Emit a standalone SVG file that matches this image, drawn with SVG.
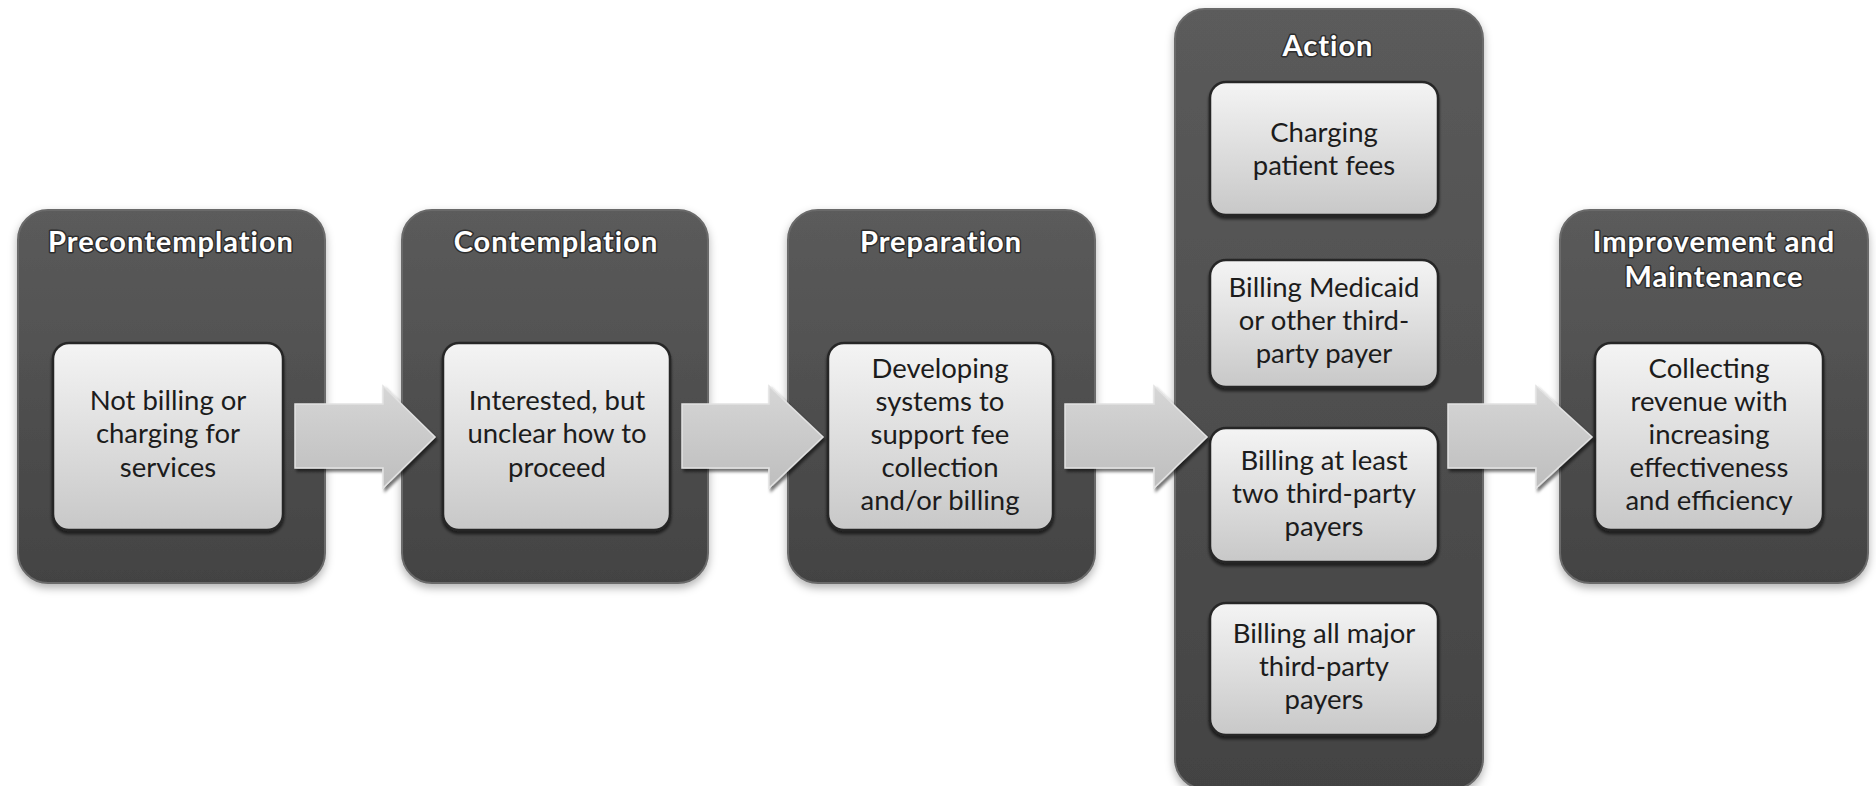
<svg xmlns="http://www.w3.org/2000/svg" width="1876" height="786" viewBox="0 0 1876 786">
<defs>
<linearGradient id="gOuter" x1="0" y1="0" x2="0" y2="1">
<stop offset="0" stop-color="#5b5b5b"/>
<stop offset="1" stop-color="#434343"/>
</linearGradient>
<linearGradient id="gInner" x1="0" y1="0" x2="0" y2="1">
<stop offset="0" stop-color="#f4f4f4"/>
<stop offset="1" stop-color="#c8c8c8"/>
</linearGradient>
<linearGradient id="gArrow" x1="0" y1="0" x2="0" y2="1">
<stop offset="0" stop-color="#d6d6d6"/>
<stop offset="1" stop-color="#bebebe"/>
</linearGradient>
<filter id="fOuter" x="-10%" y="-10%" width="120%" height="120%">
<feDropShadow dx="0" dy="4" stdDeviation="4" flood-color="#000" flood-opacity="0.3"/>
</filter>
<filter id="fInner" x="-10%" y="-10%" width="120%" height="125%">
<feDropShadow dx="0" dy="3" stdDeviation="1.5" flood-color="#000" flood-opacity="0.6"/>
</filter>
<filter id="fArrow" x="-10%" y="-10%" width="125%" height="125%">
<feDropShadow dx="2" dy="3" stdDeviation="1.5" flood-color="#000" flood-opacity="0.55"/>
</filter>
<style>
.outer{fill:url(#gOuter);stroke:#6a6a6a;stroke-width:2;filter:url(#fOuter)}
.inner{fill:url(#gInner);stroke:#262626;stroke-width:2.5;filter:url(#fInner)}
.arrow{fill:url(#gArrow);stroke:#e2e2e2;stroke-width:1.5;filter:url(#fArrow)}
.title{font-family:Lato,"Open Sans",sans-serif;font-weight:bold;font-size:29px;letter-spacing:1px;fill:#ffffff;stroke:#2e2e2e;stroke-width:3;paint-order:stroke;stroke-linejoin:round;text-anchor:middle}
.body{font-family:Lato,"Open Sans",sans-serif;font-size:27.5px;fill:#1c1c1c;text-anchor:middle}
</style>
</defs>
<rect width="1876" height="786" fill="#ffffff"/>

<g id="precontemplation">
<rect class="outer" x="18" y="210" width="307" height="373" rx="30"/>
<text class="title" x="171" y="252">Precontemplation</text>
<rect class="inner" x="53" y="343" width="230" height="187" rx="16"/>
<text class="body" x="168" y="410">Not billing or</text>
<text class="body" x="168" y="443">charging for</text>
<text class="body" x="168" y="477">services</text>
</g>

<g id="contemplation">
<rect class="outer" x="402" y="210" width="306" height="373" rx="30"/>
<text class="title" x="556" y="252">Contemplation</text>
<rect class="inner" x="443" y="343" width="227" height="187" rx="16"/>
<text class="body" x="557" y="410">Interested, but</text>
<text class="body" x="557" y="443">unclear how to</text>
<text class="body" x="557" y="477">proceed</text>
</g>

<g id="preparation">
<rect class="outer" x="788" y="210" width="307" height="373" rx="30"/>
<text class="title" x="941" y="252">Preparation</text>
<rect class="inner" x="828" y="343" width="225" height="187" rx="16"/>
<text class="body" x="940" y="378">Developing</text>
<text class="body" x="940" y="411">systems to</text>
<text class="body" x="940" y="444">support fee</text>
<text class="body" x="940" y="477">collection</text>
<text class="body" x="940" y="510">and/or billing</text>
</g>

<g id="action">
<rect class="outer" x="1175" y="9" width="308" height="780" rx="30"/>
<text class="title" x="1328" y="56">Action</text>
<g id="action-charging">
<rect class="inner" x="1210" y="82" width="228" height="133" rx="16"/>
<text class="body" x="1324" y="142">Charging</text>
<text class="body" x="1324" y="175">patient fees</text>
</g>
<g id="action-medicaid">
<rect class="inner" x="1210" y="260" width="228" height="127" rx="16"/>
<text class="body" x="1324" y="297">Billing  Medicaid</text>
<text class="body" x="1324" y="330">or other third-</text>
<text class="body" x="1324" y="363">party payer</text>
</g>
<g id="action-two">
<rect class="inner" x="1210" y="428" width="228" height="134" rx="16"/>
<text class="body" x="1324" y="470">Billing  at least</text>
<text class="body" x="1324" y="503">two third-party</text>
<text class="body" x="1324" y="536">payers</text>
</g>
<g id="action-all">
<rect class="inner" x="1210" y="603" width="228" height="132" rx="16"/>
<text class="body" x="1324" y="643">Billing  all major</text>
<text class="body" x="1324" y="676">third-party</text>
<text class="body" x="1324" y="709">payers</text>
</g>
</g>

<g id="improvement">
<rect class="outer" x="1560" y="210" width="308" height="373" rx="30"/>
<text class="title" x="1714" y="252">Improvement and</text>
<text class="title" x="1714" y="287">Maintenance</text>
<rect class="inner" x="1595" y="343" width="228" height="187" rx="16"/>
<text class="body" x="1709" y="378">Collecting</text>
<text class="body" x="1709" y="411">revenue with</text>
<text class="body" x="1709" y="444">increasing</text>
<text class="body" x="1709" y="477">effectiveness</text>
<text class="body" x="1709" y="510">and efficiency</text>
</g>

<g id="connectors">
<path class="arrow" d="M295 404 H383 V386 L435 437 L383 488 V468 H295 Z"/>
<path class="arrow" d="M682 404 H769 V386 L823 437 L769 488 V468 H682 Z"/>
<path class="arrow" d="M1065 404 H1154 V386 L1207 437 L1154 488 V468 H1065 Z"/>
<path class="arrow" d="M1448 404 H1536 V386 L1592 437 L1536 488 V468 H1448 Z"/>
</g>
</svg>
